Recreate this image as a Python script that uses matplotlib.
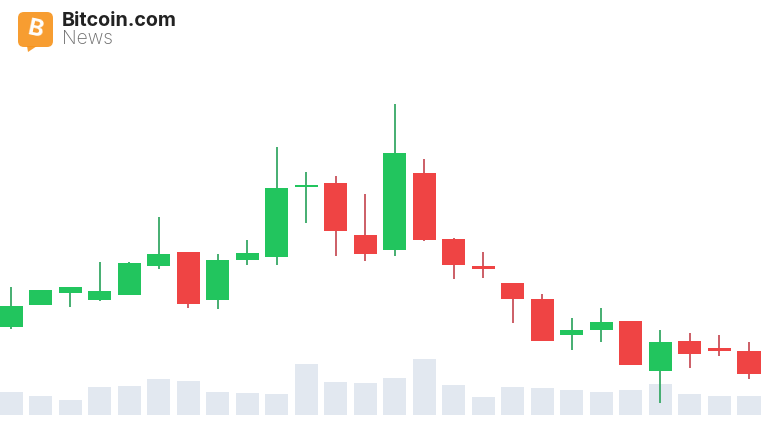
import numpy as np
import matplotlib
matplotlib.use("Agg")
import matplotlib.pyplot as plt
from matplotlib.patches import FancyBboxPatch, Polygon

# --- values (price scale = height above bottom edge) ---
opens = [105.3, 127, 138.7, 132, 137.3, 166, 180, 131.7, 172, 174.7, 244.7, 249, 196.7, 182, 259.3, 192.7, 165.7, 149.3, 132.7, 96.7, 102, 110.7, 60.7, 91, 83.7, 81]
closes = [126.3, 142, 144.7, 140.7, 168.7, 177.7, 128, 172, 178.7, 243.7, 247, 200.7, 178, 279.3, 192, 166.7, 162.7, 133.3, 91.3, 102, 109.7, 67.3, 90.3, 78, 81.3, 58]
highs = [144.7, 142, 144.7, 170.3, 170.3, 214.7, 180, 177.7, 192, 284.7, 260.3, 256, 237.7, 328, 272.7, 194.3, 180.3, 149.3, 137.7, 114.3, 123.7, 111, 102, 99, 96.7, 89.7]
lows = [102.7, 127, 125.3, 130.7, 137.3, 162.7, 124, 123, 167.3, 167, 209.3, 175.7, 171.3, 175.7, 191, 153, 153.7, 109.3, 91.3, 82, 90, 67.3, 28.7, 63.7, 75.7, 53]
volumes = [23.6, 19.3, 15.6, 28.6, 29.6, 36.3, 34.6, 23.6, 22.3, 21.3, 51, 33.6, 32, 37, 56.6, 30, 18.6, 28.6, 27, 25.6, 23.3, 25.6, 31.3, 21.6, 19, 19]

GREEN = "#22C55E"
RED = "#EF4444"
GREEN_WICK = "#37A866"
RED_WICK = "#C8525A"
VOL = "#E2E8F0"
W, H = 768, 432
X0, STEP = 11, 29.52
xlim = (-X0 / STEP, (W - X0) / STEP)

plt.rcParams['font.family'] = ['Inter', 'DejaVu Sans']
fig = plt.figure(figsize=(7.68, 4.32), dpi=100)

# volume bars sit behind the candles
ax_vol = fig.add_axes([0, 16.7 / H, 1, 1 - 16.7 / H])
x = np.arange(len(opens))
ax_vol.bar(x, volumes, width=0.78, color=VOL)
ax_vol.set_xlim(xlim)
ax_vol.set_ylim(0, H - 16.7)
ax_vol.axis("off")

ax = fig.add_axes([0, 0, 1, 1])
ax.patch.set_alpha(0)
for i in range(len(opens)):
    up = closes[i] >= opens[i]
    ax.vlines(i, lows[i], highs[i], color=GREEN_WICK if up else RED_WICK, lw=1.3, zorder=2)
    ax.bar(i, abs(closes[i] - opens[i]), bottom=min(opens[i], closes[i]), width=0.78,
           color=GREEN if up else RED, zorder=3)
ax.set_xlim(xlim)
ax.set_ylim(0, H)
ax.axis("off")

# --- logo ---
logo = fig.add_axes([0, 0, 1, 1])
logo.patch.set_alpha(0)
logo.set_xlim(0, W)
logo.set_ylim(H, 0)
logo.axis("off")
logo.add_patch(FancyBboxPatch((23, 17), 25, 25, boxstyle="round,pad=5,rounding_size=6", fc="#F7931A", ec="none", alpha=0.9))
logo.add_patch(Polygon([(27, 46), (28, 52), (37, 46)], fc="#F7931A", ec="none", alpha=0.9))
logo.text(35.5, 30, "B", color="white", fontsize=17, fontweight="bold", rotation=-12, ha="center", va="center")
logo.text(61.5, 26, "Bitcoin.com", color="#222222", fontsize=14.2, fontweight="bold", ha="left", va="baseline")
logo.text(61.5, 44.5, "News", color="#6B6B6B", fontsize=13.8, fontweight="light", ha="left", va="baseline")

fig.savefig("out.png", dpi=100)
